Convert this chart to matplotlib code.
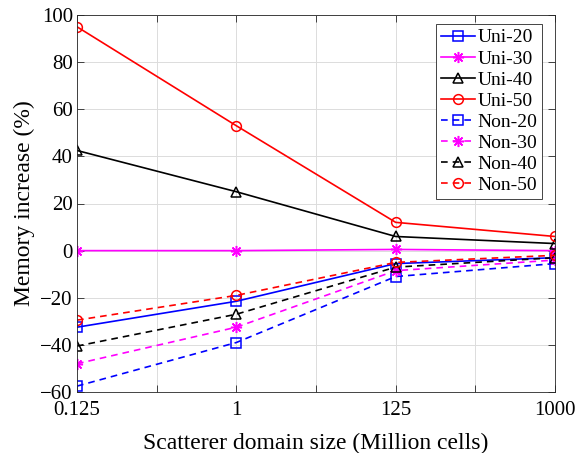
import matplotlib
matplotlib.use("Agg")
import matplotlib.pyplot as plt
import numpy as np

plt.rcParams['font.family'] = ['Liberation Serif', 'DejaVu Serif']

x_labels = ['0.125', '1', '125', '1000']
uni_20 = [-32.5, -21.5, -5.5, -3.0]
uni_30 = [0.0, 0.0, 0.5, 0.0]
uni_40 = [42.5, 25.0, 6.0, 3.0]
uni_50 = [95.0, 53.0, 12.0, 6.0]
non_20 = [-57.5, -39.0, -11.0, -5.5]
non_30 = [-48.0, -32.5, -8.5, -4.0]
non_40 = [-40.5, -27.0, -7.0, -3.0]
non_50 = [-29.5, -19.0, -5.0, -2.0]

series = [
    ('Uni-20', uni_20, 'b', 's', '-'),
    ('Uni-30', uni_30, 'm', '*', '-'),
    ('Uni-40', uni_40, 'k', '^', '-'),
    ('Uni-50', uni_50, 'r', 'o', '-'),
    ('Non-20', non_20, 'b', 's', '--'),
    ('Non-30', non_30, 'm', '*', '--'),
    ('Non-40', non_40, 'k', '^', '--'),
    ('Non-50', non_50, 'r', 'o', '--'),
]
colors = {'b': '#0000ff', 'm': '#ff00ff', 'k': '#000000', 'r': '#ff0000'}

fig = plt.figure(figsize=(5.78, 4.53), dpi=100)
ax = fig.add_axes([77/578, 1-392/453, (555-77)/578, (392-15)/453])
xs = np.arange(len(x_labels))
for name, vals, c, m, ls in series:
    if m == '*':
        mk, ms = (8, 2, 0), 8
    else:
        mk, ms = m, 7
    ax.plot(xs, vals, color=colors[c], marker=mk, linestyle=ls, lw=1.2,
            markersize=ms, markerfacecolor='none', markeredgecolor=colors[c],
            markeredgewidth=1.1, label=name, dashes=(4, 3) if ls == '--' else (None, None))

ax.set_xlim(0, 3)
ax.set_ylim(-60, 100)
ax.set_xticks(np.arange(0, 3.01, 0.5))
ax.set_xticklabels(['0.125', '', '1', '', '125', '', '1000'])
ax.set_yticks(np.arange(-60, 101, 20))
ax.tick_params(direction='in', top=True, right=True, labelsize=15, length=5, width=0.6,
               colors='#262626', labelcolor='black', pad=3)
ax.tick_params(axis='x', pad=6.5)
ax.grid(True, color='#dcdcdc', lw=0.7)
for sp in ax.spines.values():
    sp.set_color('#262626')
    sp.set_linewidth(0.6)
ax.set_xlabel('Scatterer domain size (Million cells)', fontsize=17, labelpad=9)
ax.set_ylabel('Memory increase (%)', fontsize=17, labelpad=4)

leg = ax.legend(loc='upper right', fontsize=14, handlelength=1.75, handletextpad=0.1,
                labelspacing=0.18, borderpad=0.25, borderaxespad=0, fancybox=False,
                framealpha=1, edgecolor='#262626', bbox_to_anchor=(1 - 13/478, 1 - 9/377))
leg.get_frame().set_linewidth(0.6)

fig.savefig('out.png', dpi=100)
